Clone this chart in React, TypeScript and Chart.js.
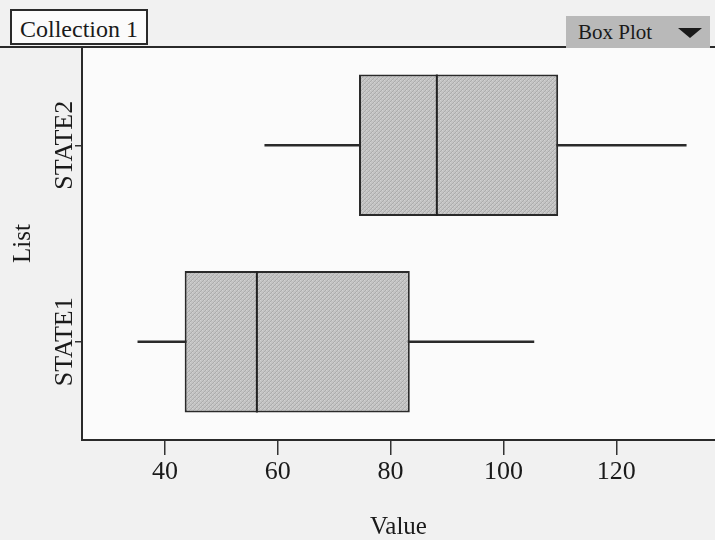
import React, { useEffect, useRef } from "react";
import { Chart, registerables } from "chart.js";

Chart.register(...registerables);

const categories = ["STATE2", "STATE1"];
const minValues = [57.7, 35.2];
const q1Values = [74.4, 43.5];
const medianValues = [88.2, 56.3];
const q3Values = [109.7, 83.4];
const maxValues = [132.4, 105.4];
const xTicks = [40, 60, 80, 100, 120];

const SERIF = "'Liberation Serif', 'DejaVu Serif', serif";

function makePattern(): CanvasPattern | string {
  const c = document.createElement("canvas");
  c.width = 4;
  c.height = 4;
  const g = c.getContext("2d");
  if (!g) return "#c0c0c0";
  g.fillStyle = "#c4c4c4";
  g.fillRect(0, 0, 4, 4);
  g.fillStyle = "#acacac";
  for (let i = 0; i < 4; i++) g.fillRect(i, 3 - i, 1, 1);
  g.fillStyle = "#d2d2d2";
  g.fillRect(0, 0, 1, 1);
  g.fillRect(2, 2, 1, 1);
  const p = g.createPattern(c, "repeat");
  return p || "#c0c0c0";
}

const framePlugin = {
  id: "framePlugin",
  beforeDraw(chart: any) {
    const { ctx, chartArea, width, height } = chart;
    ctx.save();
    ctx.fillStyle = "#f1f1f1";
    ctx.fillRect(0, 0, width, height);
    ctx.fillStyle = "#fbfbfb";
    ctx.fillRect(chartArea.left, chartArea.top, chartArea.right - chartArea.left, chartArea.bottom - chartArea.top);
    ctx.restore();
  },
  afterDraw(chart: any) {
    const { ctx, chartArea } = chart;
    const yScale = chart.scales.y;
    ctx.save();
    ctx.strokeStyle = "#2a2a2a";
    ctx.lineWidth = 2;
    ctx.beginPath();
    ctx.moveTo(0, chartArea.top);
    ctx.lineTo(chartArea.right, chartArea.top);
    ctx.stroke();
    // category labels, rotated, centred on their ticks
    ctx.fillStyle = "#1a1a1a";
    ctx.font = `26px ${SERIF}`;
    ctx.textAlign = "center";
    ctx.textBaseline = "middle";
    categories.forEach((label, i) => {
      const y = yScale.getPixelForValue(i);
      ctx.save();
      ctx.translate(chartArea.left - 17, y);
      ctx.rotate(-Math.PI / 2);
      ctx.fillText(label, 0, 0);
      ctx.restore();
    });
    ctx.restore();
  },
};

const medianPlugin = {
  id: "medianPlugin",
  afterDatasetsDraw(chart: any) {
    const { ctx } = chart;
    const xScale = chart.scales.x;
    const meta = chart.getDatasetMeta(1);
    ctx.save();
    ctx.strokeStyle = "#222";
    ctx.lineWidth = 2;
    meta.data.forEach((bar: any, i: number) => {
      const x = xScale.getPixelForValue(medianValues[i]);
      const half = bar.height / 2;
      ctx.beginPath();
      ctx.moveTo(x, bar.y - half);
      ctx.lineTo(x, bar.y + half);
      ctx.stroke();
    });
    ctx.restore();
  },
};

export default function App() {
  const ref = useRef<HTMLCanvasElement | null>(null);

  useEffect(() => {
    if (!ref.current) return;
    const pattern = makePattern();
    const chart = new Chart(ref.current, {
      type: "bar",
      data: {
        labels: categories,
        datasets: [
          {
            label: "whisker",
            data: categories.map((_, i) => [minValues[i], maxValues[i]]),
            backgroundColor: "#2a2a2a",
            borderWidth: 0,
            barThickness: 2,
            grouped: false,
            order: 2,
          } as any,
          {
            label: "box",
            data: categories.map((_, i) => [q1Values[i], q3Values[i]]),
            backgroundColor: pattern as any,
            borderColor: "#2a2a2a",
            borderWidth: 2,
            borderSkipped: false,
            barPercentage: 0.72,
            categoryPercentage: 1,
            grouped: false,
            order: 1,
          } as any,
        ],
      },
      options: {
        indexAxis: "y",
        animation: false,
        responsive: false,
        layout: { padding: { top: 47, right: 0, left: 0, bottom: 0 } },
        plugins: { legend: { display: false }, tooltip: { enabled: false } },
        scales: {
          x: {
            type: "linear",
            min: 25.3,
            max: 137.5,
            afterBuildTicks(scale: any) {
              scale.ticks = xTicks.map((v) => ({ value: v }));
            },
            afterFit(scale: any) {
              scale.height = 100;
            },
            grid: {
              drawOnChartArea: false,
              drawTicks: true,
              tickLength: 15,
              color: "#333",
              lineWidth: 1.5,
            },
            border: { display: true, color: "#2a2a2a", width: 2 },
            ticks: {
              color: "#1a1a1a",
              font: { family: SERIF, size: 26 },
              padding: 2,
              maxRotation: 0,
            },
            title: {
              display: true,
              text: "Value",
              color: "#1a1a1a",
              font: { family: SERIF, size: 25 },
              padding: { top: 0, bottom: -2 },
            },
          },
          y: {
            type: "category",
            offset: true,
            afterFit(scale: any) {
              scale.width = 82;
            },
            grid: {
              offset: false,
              drawOnChartArea: false,
              drawTicks: true,
              tickLength: 7,
              color: "#333",
              lineWidth: 1.5,
            },
            border: { display: true, color: "#2a2a2a", width: 2 },
            ticks: { display: false },
            title: {
              display: true,
              text: "List",
              color: "#1a1a1a",
              font: { family: SERIF, size: 25 },
              padding: { top: 8, bottom: 0 },
            },
          },
        },
      },
      plugins: [framePlugin, medianPlugin],
    } as any);
    return () => chart.destroy();
  }, []);

  return (
    <div style={{ position: "absolute", left: 0, top: 0, width: 715, height: 540, overflow: "hidden" }}>
      <canvas ref={ref} width={715} height={540} style={{ display: "block" }} />
      <div
        style={{
          position: "absolute",
          left: 10,
          top: 9,
          width: 138,
          height: 36,
          border: "2px solid #2a2a2a",
          background: "#fbfbfb",
          fontFamily: SERIF,
          fontSize: 24,
          lineHeight: "36px",
          color: "#1a1a1a",
          paddingLeft: 8,
          boxSizing: "border-box",
          whiteSpace: "nowrap",
        }}
      >
        Collection 1
      </div>
      <div
        style={{
          position: "absolute",
          left: 566,
          top: 16,
          width: 144,
          height: 32,
          background: "#b9b9b9",
          fontFamily: SERIF,
          fontSize: 21,
          lineHeight: "32px",
          color: "#1a1a1a",
          paddingLeft: 12,
          boxSizing: "border-box",
          whiteSpace: "nowrap",
        }}
      >
        Box Plot
        <span
          style={{
            position: "absolute",
            left: 112,
            top: 12,
            width: 0,
            height: 0,
            borderLeft: "12px solid transparent",
            borderRight: "12px solid transparent",
            borderTop: "10px solid #1a1a1a",
          }}
        />
      </div>
    </div>
  );
}
